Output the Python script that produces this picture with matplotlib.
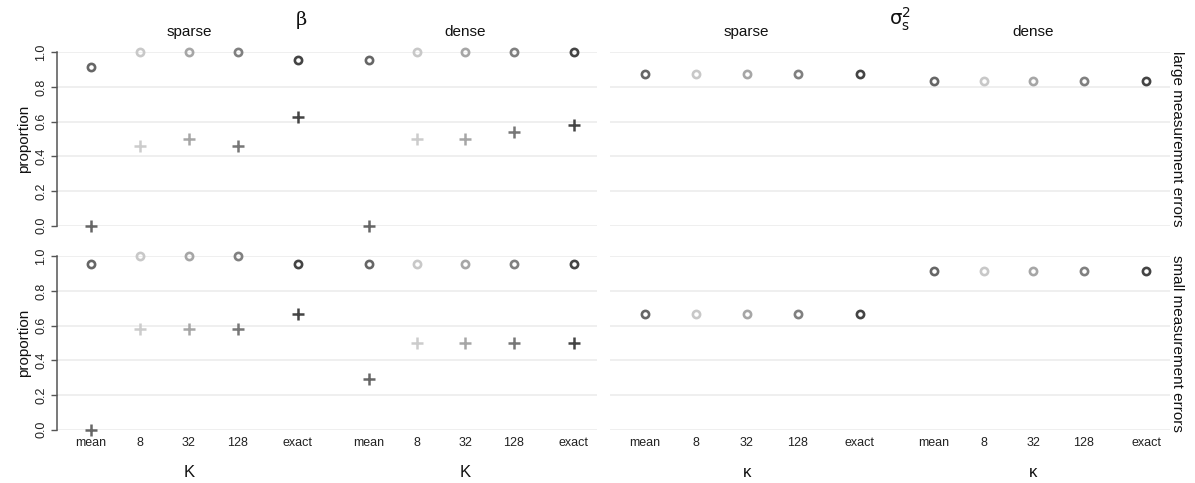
import matplotlib
matplotlib.use("Agg")
import matplotlib.pyplot as plt

plt.rcParams['font.family'] = ['Liberation Sans', 'DejaVu Sans']

methods = ["mean", "8", "32", "128", "exact"]
designs = ["sparse", "dense"]
errors = ["large measurement errors", "small measurement errors"]

# beta: coverage proportions (circles) and plus-marker proportions
beta_circ = {
    ("large", "sparse"): [0.917, 1.0, 1.0, 1.0, 0.958],
    ("large", "dense"):  [0.958, 1.0, 1.0, 1.0, 1.0],
    ("small", "sparse"): [0.958, 1.0, 1.0, 1.0, 0.958],
    ("small", "dense"):  [0.958, 0.958, 0.958, 0.958, 0.958],
}
beta_plus = {
    ("large", "sparse"): [0.0, 0.458, 0.5, 0.458, 0.625],
    ("large", "dense"):  [0.0, 0.5, 0.5, 0.542, 0.583],
    ("small", "sparse"): [0.0, 0.583, 0.583, 0.583, 0.667],
    ("small", "dense"):  [0.292, 0.5, 0.5, 0.5, 0.5],
}
sigma_circ = {
    ("large", "sparse"): [0.875, 0.875, 0.875, 0.875, 0.875],
    ("large", "dense"):  [0.833, 0.833, 0.833, 0.833, 0.833],
    ("small", "sparse"): [0.667, 0.667, 0.667, 0.667, 0.667],
    ("small", "dense"):  [0.917, 0.917, 0.917, 0.917, 0.917],
}

colors_circ = ["#666666", "#c8c8c8", "#a6a6a6", "#808080", "#444444"]
colors_plus = ["#666666", "#cccccc", "#a6a6a6", "#777777", "#444444"]

xpos = {"sparse": [0, 1, 2, 3, 4.22], "dense": [5.68, 6.66, 7.64, 8.63, 9.86]}
xlim = (-0.69, 10.33)

W, H = 1195, 483
fig = plt.figure(figsize=(W / 100, H / 100), dpi=100)

cols = [(57, 597), (610, 1170)]
rows = [(52.3, 225.7), (256.3, 429.7)]
grid_c = "#ebebeb"

axes = {}
for ri, (yt, yb) in enumerate(rows):
    for ci, (xl, xr) in enumerate(cols):
        ax = fig.add_axes([xl / W, 1 - yb / H, (xr - xl) / W, (yb - yt) / H])
        ax.set_xlim(*xlim)
        ax.set_ylim(0, 1)
        for s in ax.spines.values():
            s.set_visible(False)
        ax.set_yticks([0, 0.2, 0.4, 0.6, 0.8, 1.0])
        ax.grid(axis="y", color=grid_c, linewidth=1.1)
        ax.set_axisbelow(True)
        ax.set_xticks(xpos["sparse"] + xpos["dense"])
        ax.tick_params(axis="x", length=0, pad=5, labelsize=9, colors="#222222")
        if ri == 1:
            ax.set_xticklabels(methods + methods)
        else:
            ax.set_xticklabels([])
        if ci == 0:
            ax.spines["left"].set_visible(True)
            ax.spines["left"].set_color("#555555")
            ax.spines["left"].set_linewidth(1.1)
            ax.tick_params(axis="y", length=4, width=1, colors="#555555",
                           labelsize=9, labelcolor="#222222", pad=3)
            ax.set_yticklabels(["0.0", "0.2", "0.4", "0.6", "0.8", "1.0"],
                               rotation=90, va="center")
            ax.set_ylabel("proportion", fontsize=11, labelpad=3, color="#111111")
        else:
            ax.tick_params(axis="y", length=0, labelleft=False)
        axes[(ri, ci)] = ax

keys = ["large", "small"]
for ri, ek in enumerate(keys):
    for d in designs:
        ax = axes[(ri, 0)]
        for i, m in enumerate(methods):
            ax.plot(xpos[d][i], beta_circ[(ek, d)][i], marker="o", ms=5.2,
                    mfc="none", mec=colors_circ[i], mew=1.9, ls="none", clip_on=False)
            ax.plot(xpos[d][i], beta_plus[(ek, d)][i], marker="+", ms=9,
                    mec=colors_plus[i], mew=1.8, ls="none", clip_on=False)
        ax = axes[(ri, 1)]
        for i, m in enumerate(methods):
            ax.plot(xpos[d][i], sigma_circ[(ek, d)][i], marker="o", ms=5.2,
                    mfc="none", mec=colors_circ[i], mew=1.9, ls="none", clip_on=False)

# strip labels
for ci in range(2):
    ax = axes[(0, ci)]
    for d in designs:
        ax.text(xpos[d][2], 1.115, d, transform=ax.get_xaxis_transform(),
                ha="center", va="center", fontsize=11, color="#111111")
    ax2 = axes[(1, ci)]
    klabel = "Κ" if ci == 0 else "κ"
    for d in designs:
        ax2.text(xpos[d][2], -0.245, klabel, transform=ax2.get_xaxis_transform(),
                 ha="center", va="center", fontsize=12, color="#111111")

fig.text(301 / W, 1 - 20 / H, "β", ha="center", va="center", fontsize=14,
         family=["DejaVu Serif"], color="#111111")
fig.text(900 / W, 1 - 19 / H, r"$\mathrm{\sigma}_\mathrm{s}^\mathrm{2}$", ha="center",
         va="center", fontsize=14, color="#111111")

for ri, lab in enumerate(errors):
    yt, yb = rows[ri]
    fig.text(1177 / W, 1 - (yt + yb) / 2 / H, lab, rotation=-90, ha="center",
             va="center", fontsize=11, color="#111111")

fig.savefig("out.png", dpi=100)
